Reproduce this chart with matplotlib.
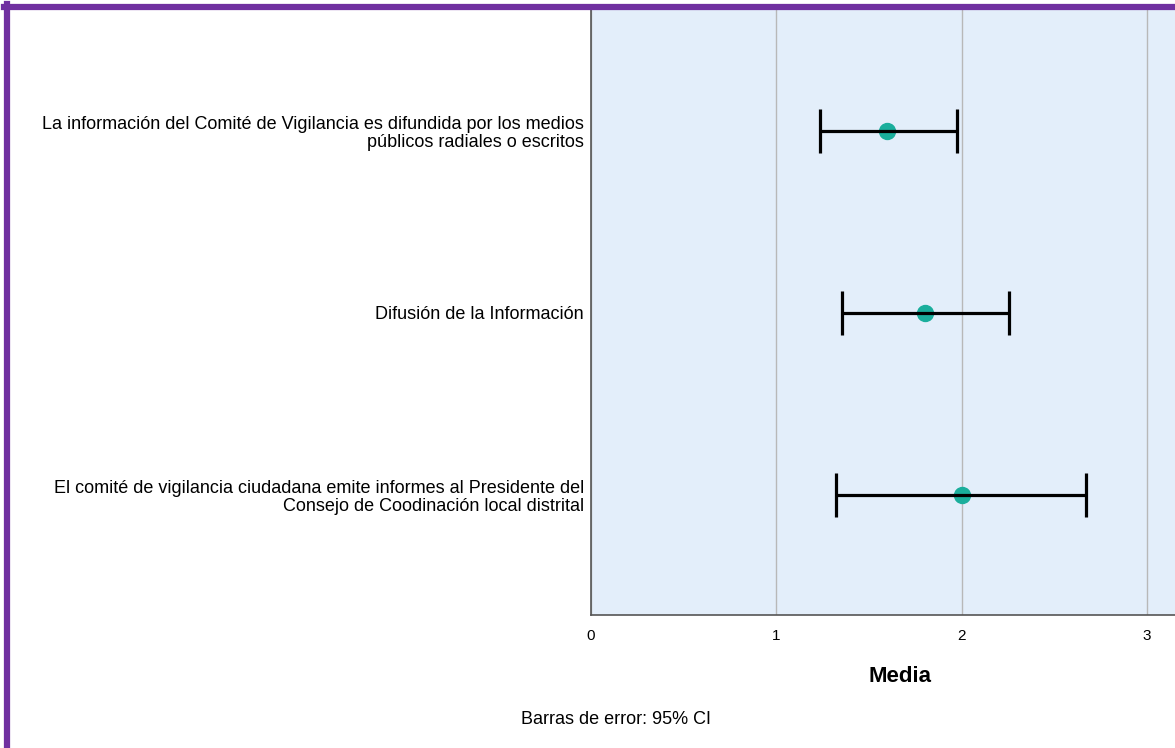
import matplotlib.pyplot as plt
from matplotlib.lines import Line2D

plt.rcParams["font.family"] = ["Liberation Sans", "DejaVu Sans"]

# Datos
categorias = [
    "La información del Comité de Vigilancia es difundida por los medios\npúblicos radiales o escritos",
    "Difusión de la Información",
    "El comité de vigilancia ciudadana emite informes al Presidente del\nConsejo de Coodinación local distrital",
]
medias = [1.60, 1.80, 2.00]
ci_inf = [1.235, 1.355, 1.322]
ci_sup = [1.975, 2.257, 2.672]
ticks_x = [0, 1, 2, 3]

W, H = 1175, 748
fig = plt.figure(figsize=(W / 100, H / 100), dpi=100)

# ejes: x=0 en 591 px, 185.3 px por unidad, arriba 8 px, abajo 615 px
xmax = 3.5
ax = fig.add_axes([591 / W, 1 - 615 / H, xmax * 185.3 / W, (615 - 8) / H])
ax.set_facecolor("#e3eefa")

ypos = list(range(len(categorias)))
err_inf = [m - l for m, l in zip(medias, ci_inf)]
err_sup = [u - m for m, u in zip(medias, ci_sup)]

ax.plot(medias, ypos, "o", color="#1aae9c", markersize=11.5, zorder=3)
ax.errorbar(medias, ypos, xerr=[err_inf, err_sup], fmt="none", ecolor="black",
            elinewidth=2.3, capsize=15.5, capthick=2.3, zorder=4)

ax.set_xlim(0, xmax)
ax.set_ylim(2.66, -0.675)
ax.set_xticks(ticks_x)
ax.set_xticklabels([str(t) for t in ticks_x], fontsize=11)
ax.set_yticks(ypos)
ax.set_yticklabels(categorias, fontsize=13, linespacing=1.05)
ax.tick_params(axis="x", length=0, pad=10)
ax.tick_params(axis="y", length=0, pad=5)
ax.grid(axis="x", color="#b8b8b8", linewidth=1)
ax.set_axisbelow(True)

for s in ["left", "bottom"]:
    ax.spines[s].set_color("#555555")
    ax.spines[s].set_linewidth(1.2)
ax.spines["top"].set_visible(False)
ax.spines["right"].set_visible(False)

fig.text(900 / W, 1 - 677 / H, "Media", fontsize=16, fontweight="bold",
         ha="center", va="center")
fig.text(616 / W, 1 - 720 / H, "Barras de error: 95% CI", fontsize=13,
         ha="center", va="center")

# borde morado (izquierda y arriba)
borde = "#7030a0"
fig.add_artist(Line2D([7 / W, 7 / W], [0, 1 - 4 / H], color=borde, linewidth=4.5,
                      transform=fig.transFigure))
fig.add_artist(Line2D([4 / W, 1], [1 - 7 / H, 1 - 7 / H], color=borde, linewidth=4.5,
                      transform=fig.transFigure))

fig.savefig("out.png", dpi=100)
